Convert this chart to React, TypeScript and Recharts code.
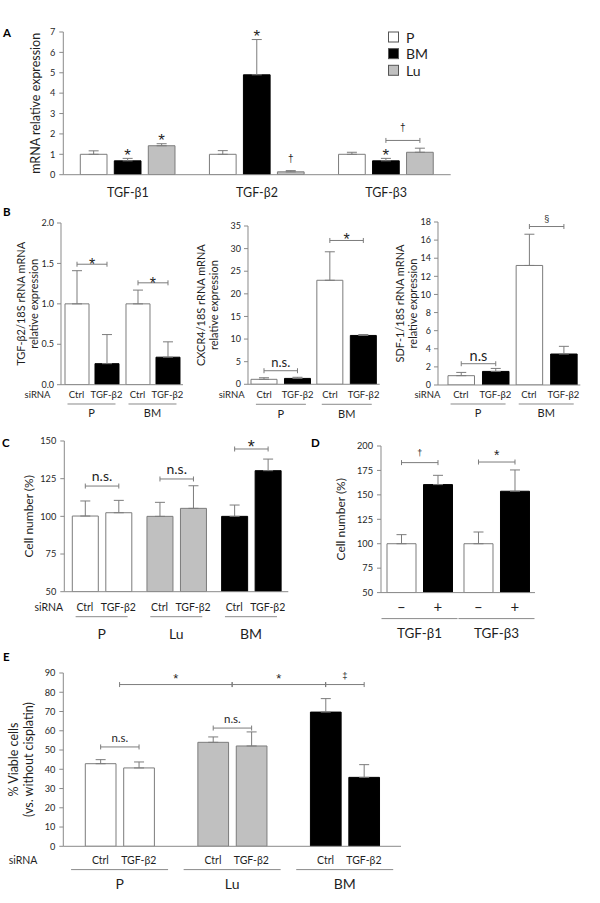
import React from 'react';
import { BarChart, Bar, XAxis, YAxis, ErrorBar, LabelList, Cell, ReferenceLine } from 'recharts';

// ---------------- data ----------------
// Panel A
const catsA = ['TGF-β1', 'TGF-β2', 'TGF-β3'];
const legendA = ['P', 'BM', 'Lu'];
const aP = [1.0, 1.0, 1.0];
const aPErr = [0.17, 0.18, 0.1];
const aBM = [0.68, 4.9, 0.68];
const aBMErr = [0.12, 1.73, 0.12];
const aLu = [1.42, 0.14, 1.1];
const aLuErr = [0.1, 0.06, 0.2];
const aBMMarks = ['*', '*', '*'];
const aLuMarks = ['*', '†', ''];
const aTicks = [0, 1, 2, 3, 4, 5, 6, 7];
const aBrackets = [{ g: 2, y: 1.68, label: '†' }];

// Panel B
const siRNALabel = 'siRNA';
const bGroups = ['P', 'BM'];
const siRNA = ['Ctrl', 'TGF-β2'];
const b1Ctrl = [1.0, 1.0];
const b1CtrlErr = [0.41, 0.17];
const b1Si = [0.26, 0.34];
const b1SiErr = [0.36, 0.19];
const b1Ticks = [0, 0.5, 1.0, 1.5, 2.0];
const b1Brackets = [{ g: 0, y: 1.49, label: '*' }, { g: 1, y: 1.26, label: '*' }];

const b2Ctrl = [1.1, 23.0];
const b2CtrlErr = [0.35, 6.3];
const b2Si = [1.3, 10.8];
const b2SiErr = [0.25, 0.2];
const b2Ticks = [0, 5, 10, 15, 20, 25, 30, 35];
const b2Brackets = [{ g: 0, y: 3.0, label: 'n.s.' }, { g: 1, y: 31.8, label: '*' }];

const b3Ctrl = [1.03, 13.2];
const b3CtrlErr = [0.36, 3.45];
const b3Si = [1.5, 3.42];
const b3SiErr = [0.33, 0.85];
const b3Ticks = [0, 2, 4, 6, 8, 10, 12, 14, 16, 18];
const b3Brackets = [{ g: 0, y: 2.35, label: 'n.s' }, { g: 1, y: 17.5, label: '§' }];

// Panel C
const cGroups = ['P', 'Lu', 'BM'];
const cCtrl = [100.2, 100.0, 100.0];
const cCtrlErr = [10.0, 9.3, 7.5];
const cSi = [102.4, 105.3, 130.3];
const cSiErr = [8.2, 15.0, 7.7];
const cTicks = [50, 75, 100, 125, 150];
const cBrackets = [
  { g: 0, y: 120.1, label: 'n.s.' },
  { g: 1, y: 124.8, label: 'n.s.' },
  { g: 2, y: 144.7, label: '*' },
];

// Panel D
const dGroups = ['TGF-β1', 'TGF-β3'];
const dTreat = ['–', '+'];
const dMinus = [100.0, 100.0];
const dMinusErr = [9.3, 12.0];
const dPlus = [160.5, 153.7];
const dPlusErr = [9.5, 21.8];
const dTicks = [50, 75, 100, 125, 150, 175, 200];
const dBrackets = [{ g: 0, y: 183.0, label: '†' }, { g: 1, y: 183.6, label: '*' }];

// Panel E
const eGroups = ['P', 'Lu', 'BM'];
const eCtrl = [42.9, 54.0, 69.7];
const eCtrlErr = [2.1, 2.8, 7.0];
const eSi = [40.7, 52.1, 35.8];
const eSiErr = [3.1, 7.3, 6.6];
const eTicks = [0, 10, 20, 30, 40, 50, 60, 70, 80, 90];
const eBrackets = [
  { g: 0, y: 51.6, label: 'n.s.' },
  { g: 1, y: 61.4, label: 'n.s.' },
  { g: 2, y: 84.0, label: '‡' },
];
const eTopY = 84.0;
const eTopMarks = ['*', '*'];

// ---------------- styles ----------------
const FONT = 'Lato, "Open Sans", "DejaVu Sans", sans-serif';
const GLYPH_FONT = '"Liberation Sans", Arial, sans-serif';
const WHITE = '#ffffff';
const BLACK = '#000000';
const GRAY = '#c0c0c0';
const EDGE = '#7b7b7b';
const AXIS = '#8a8a8a';
const INK = '#1f1f1f';
const groupFill3 = [WHITE, GRAY, BLACK];
const groupStroke3 = [EDGE, EDGE, BLACK];

// ---------------- helpers ----------------
const geom = (lp: any) => {
  const vb = lp && lp.viewBox && typeof lp.viewBox.x === 'number' ? lp.viewBox : lp;
  const x = Number(vb.x), y = Number(vb.y), w = Number(vb.width), h = Number(vb.height);
  if ([x, y, w, h].some((n) => Number.isNaN(n))) return null;
  return { x, y, w, h };
};

const Glyph = ({ x, bottom, label, fs }: { x: number; bottom: number; label: string; fs: number }) => {
  const isStar = label === '*';
  const isDag = label === '†' || label === '‡' || label === '§';
  const base = isStar ? bottom + 0.44 * fs : isDag ? bottom - 0.19 * fs : bottom;
  return (
    <text x={x} y={base} textAnchor="middle" fontSize={fs} fill={INK} fontFamily={isStar || isDag ? GLYPH_FONT : FONT}>
      {label}
    </text>
  );
};

const BracketMark = ({ x1, x2, y, label, fs, gap }: any) => (
  <g>
    <line x1={x1} x2={x2} y1={y} y2={y} stroke={EDGE} strokeWidth={1} />
    <line x1={x1} x2={x1} y1={y - 2.5} y2={y + 2.5} stroke={EDGE} strokeWidth={1} />
    <line x1={x2} x2={x2} y1={y - 2.5} y2={y + 2.5} stroke={EDGE} strokeWidth={1} />
    {label ? <Glyph x={(x1 + x2) / 2} bottom={y - gap} label={label} fs={fs} /> : null}
  </g>
);

const nameTick = (dy: number, fs: number) => (t: any) => (
  <text x={t.x} y={t.y + dy} textAnchor="middle" dominantBaseline="central" fontSize={fs} fill={INK} fontFamily={FONT}>
    {t.payload.value}
  </text>
);

type GT = {
  step: number; sub: string[]; rowDy: number; lineDy: number; groupDy: number; half: number;
  subFs: number; groupFs: number; lead?: string; leadOff?: number;
};
const groupTick = (o: GT) => (t: any) => {
  const { x, y, index } = t;
  return (
    <g>
      {o.lead && index === 0 ? (
        <text x={x - o.step / 2 - (o.leadOff || 0)} y={y + o.rowDy} textAnchor="end" dominantBaseline="central" fontSize={o.subFs} fill={INK} fontFamily={FONT}>
          {o.lead}
        </text>
      ) : null}
      {o.sub.map((s, k) => (
        <text key={k} x={x + (k - (o.sub.length - 1) / 2) * o.step} y={y + o.rowDy} textAnchor="middle" dominantBaseline="central" fontSize={o.subFs} fill={INK} fontFamily={FONT}>
          {s}
        </text>
      ))}
      <line x1={x - o.half} x2={x + o.half} y1={y + o.lineDy} y2={y + o.lineDy} stroke={AXIS} strokeWidth={1} />
      <text x={x} y={y + o.groupDy} textAnchor="middle" dominantBaseline="central" fontSize={o.groupFs} fill={INK} fontFamily={FONT}>
        {t.payload.value}
      </text>
    </g>
  );
};

type Series = { key: string; values: number[]; errs: number[]; fill: string[]; stroke: string[]; marks?: string[] };
type Br = { g: number; y: number; label: string };
type GS = (label: string) => { fs: number; gap: number };

type PanelProps = {
  plot: [number, number, number, number];
  yw: number; xh: number; mt: number; mr: number;
  cats: string[]; series: Series[];
  domain: [number, number]; ticks: number[]; tickFmt?: (v: number) => string;
  tickFs?: number; tickMargin?: number;
  barSize: number; barGap: number; padLeft?: number;
  brackets: Br[]; bracketStyle: GS; markStyle: GS;
  yLabel: { lines: string[]; xs: number[]; fs: number };
  xTick: any;
  extras?: React.ReactNode[];
};

function Panel(p: PanelProps) {
  const [x0, y0, x1, y1] = p.plot;
  const left = x0 - p.yw;
  const top = y0 - p.mt;
  const width = x1 - left + p.mr;
  const height = y1 - top + p.xh;
  const data = p.cats.map((c, i) => {
    const row: any = { cat: c };
    p.series.forEach((s) => {
      row[s.key] = s.values[i];
      row[s.key + 'Err'] = [0, s.errs[i]];
    });
    return row;
  });
  const step = p.barSize + p.barGap;
  const dmin = p.domain[0];
  const last = p.series.length - 1;

  const content = (s: Series, si: number) => (lp: any) => {
    const i = lp.index;
    const g = geom(lp);
    if (!g || i === undefined) return null;
    const v = s.values[i];
    const ppu = g.h / (v - dmin);
    const base = g.y + g.h;
    const yPix = (val: number) => base - (val - dmin) * ppu;
    const cx = g.x + g.w / 2;
    const els: React.ReactNode[] = [];
    const m = s.marks ? s.marks[i] : '';
    if (m) {
      const st = p.markStyle(m);
      els.push(<Glyph key="m" x={cx} bottom={yPix(v + s.errs[i]) - st.gap} label={m} fs={st.fs} />);
    }
    if (si === last) {
      p.brackets
        .filter((b) => b.g === i)
        .forEach((b, k) => {
          const st = p.bracketStyle(b.label);
          els.push(<BracketMark key={'b' + k} x1={cx - step} x2={cx} y={yPix(b.y)} label={b.label} fs={st.fs} gap={st.gap} />);
        });
    }
    return <g>{els}</g>;
  };

  const yLabel = (lp: any) => {
    const vb = lp && lp.viewBox && typeof lp.viewBox.x === 'number' ? lp.viewBox : { x: 0, y: p.mt, width: p.yw, height: y1 - y0 };
    const cy = vb.y + vb.height / 2;
    return (
      <g>
        {p.yLabel.lines.map((t, k) => {
          const lx = vb.x + (p.yLabel.xs[k] - left);
          return (
            <text key={k} x={lx} y={cy} transform={`rotate(-90 ${lx} ${cy})`} textAnchor="middle" dominantBaseline="central" fontSize={p.yLabel.fs} fill={INK} fontFamily={FONT}>
              {t}
            </text>
          );
        })}
      </g>
    );
  };

  return (
    <div style={{ position: 'absolute', left, top }}>
      <BarChart
        width={width}
        height={height}
        data={data}
        margin={{ top: p.mt, right: p.mr, left: 0, bottom: 0 }}
        barGap={p.barGap}
        barSize={p.barSize}
      >
        <XAxis
          dataKey="cat"
          height={p.xh}
          tickLine={false}
          tickSize={0}
          tickMargin={0}
          axisLine={{ stroke: AXIS }}
          tick={p.xTick}
          interval={0}
          padding={{ left: p.padLeft || 0, right: 0 }}
        />
        <YAxis
          type="number"
          width={p.yw}
          domain={p.domain}
          ticks={p.ticks}
          allowDataOverflow
          interval={0}
          tickSize={4}
          tickMargin={p.tickMargin ?? 4}
          tickLine={{ stroke: AXIS }}
          axisLine={{ stroke: AXIS }}
          tick={{ fontSize: p.tickFs ?? 9.2, fill: INK, fontFamily: FONT }}
          tickFormatter={p.tickFmt}
          label={yLabel}
        />
        {p.series.map((s, si) => (
          <Bar key={s.key} dataKey={s.key} isAnimationActive={false} strokeWidth={1}>
            {data.map((_, i) => (
              <Cell key={i} fill={s.fill[i]} stroke={s.stroke[i]} />
            ))}
            <ErrorBar dataKey={s.key + 'Err'} width={5} stroke={EDGE} strokeWidth={1} direction="y" isAnimationActive={false} />
            <LabelList dataKey={s.key} content={content(s, si)} />
          </Bar>
        ))}
        {p.extras}
      </BarChart>
    </div>
  );
}

const styleBy = (m: Record<string, [number, number]>): GS => (label) => {
  const v = m[label] || [12, 4];
  return { fs: v[0], gap: v[1] };
};

const topBracket = (label: string, trimRight: number, fs: number, gap: number) => (q: any) => {
  const xa = Number(q.x1);
  const xb = Number(q.x2) - trimRight;
  const y = Number(q.y1);
  return <BracketMark x1={xa} x2={xb} y={y} label={label} fs={fs} gap={gap} />;
};

export default function App() {
  const fill = (c: string, n: number) => Array.from({ length: n }, () => c);
  const eStep = 30.7 + 7.7;
  return (
    <div style={{ position: 'absolute', left: 0, top: 0, width: 600, height: 903, background: '#fff', fontFamily: FONT, overflow: 'hidden' }}>
      {/* A */}
      <Panel
        plot={[63.3, 32.3, 450.7, 175]}
        yw={63.3} xh={30} mt={12} mr={8}
        cats={catsA}
        series={[
          { key: 'P', values: aP, errs: aPErr, fill: fill(WHITE, 3), stroke: fill(EDGE, 3) },
          { key: 'BM', values: aBM, errs: aBMErr, fill: fill(BLACK, 3), stroke: fill(BLACK, 3), marks: aBMMarks },
          { key: 'Lu', values: aLu, errs: aLuErr, fill: fill(GRAY, 3), stroke: fill(EDGE, 3), marks: aLuMarks },
        ]}
        domain={[0, 7]} ticks={aTicks}
        barSize={26.7} barGap={7.3}
        brackets={aBrackets}
        bracketStyle={styleBy({ '†': [10, 7.5] })}
        markStyle={styleBy({ '*': [17, 5], '†': [10, 7] })}
        yLabel={{ lines: ['mRNA relative expression'], xs: [35], fs: 12.5 }}
        xTick={nameTick(18.3, 12.5)}
      />
      {/* B1 */}
      <Panel
        plot={[61, 223.3, 183, 385]}
        yw={61} xh={38} mt={10} mr={4}
        cats={bGroups}
        series={[
          { key: 'Ctrl', values: b1Ctrl, errs: b1CtrlErr, fill: fill(WHITE, 2), stroke: fill(EDGE, 2) },
          { key: 'Si', values: b1Si, errs: b1SiErr, fill: fill(BLACK, 2), stroke: fill(BLACK, 2) },
        ]}
        domain={[0, 2]} ticks={b1Ticks} tickFmt={(v) => v.toFixed(1)} tickFs={9} tickMargin={3}
        barSize={24} barGap={6}
        brackets={b1Brackets}
        bracketStyle={styleBy({ '*': [16, 1.3] })}
        markStyle={styleBy({})}
        yLabel={{ lines: ['TGF-β2/18S rRNA mRNA', 'relative expression'], xs: [20, 33], fs: 11 }}
        xTick={groupTick({ step: 30, sub: siRNA, rowDy: 10, lineDy: 19.3, groupDy: 28.3, half: 24, subFs: 9.5, groupFs: 11, lead: siRNALabel, leadOff: 26 })}
      />
      {/* B2 */}
      <Panel
        plot={[248.3, 226, 380, 384.3]}
        yw={58} xh={39} mt={10} mr={4}
        cats={bGroups}
        series={[
          { key: 'Ctrl', values: b2Ctrl, errs: b2CtrlErr, fill: fill(WHITE, 2), stroke: fill(EDGE, 2) },
          { key: 'Si', values: b2Si, errs: b2SiErr, fill: fill(BLACK, 2), stroke: fill(BLACK, 2) },
        ]}
        domain={[0, 35]} ticks={b2Ticks} tickFs={9} tickMargin={3}
        barSize={26} barGap={7.5}
        brackets={b2Brackets}
        bracketStyle={styleBy({ 'n.s.': [13, 4], '*': [16, 2.7] })}
        markStyle={styleBy({})}
        yLabel={{ lines: ['CXCR4/18S rRNA mRNA', 'relative expression'], xs: [201, 214], fs: 11 }}
        xTick={groupTick({ step: 33.5, sub: siRNA, rowDy: 10.5, lineDy: 20, groupDy: 29, half: 25, subFs: 9.5, groupFs: 11, lead: siRNALabel, leadOff: 19.5 })}
      />
      {/* B3 */}
      <Panel
        plot={[437.7, 222.3, 580, 385.3]}
        yw={50} xh={38} mt={10} mr={8}
        cats={bGroups}
        series={[
          { key: 'Ctrl', values: b3Ctrl, errs: b3CtrlErr, fill: fill(WHITE, 2), stroke: fill(EDGE, 2) },
          { key: 'Si', values: b3Si, errs: b3SiErr, fill: fill(BLACK, 2), stroke: fill(BLACK, 2) },
        ]}
        domain={[0, 18]} ticks={b3Ticks} tickFs={9} tickMargin={3}
        barSize={26.5} barGap={8} padLeft={6}
        brackets={b3Brackets}
        bracketStyle={styleBy({ 'n.s': [14.5, 3], '§': [9, 2.7] })}
        markStyle={styleBy({})}
        yLabel={{ lines: ['SDF-1/18S rRNA mRNA', 'relative expression'], xs: [399, 412], fs: 11 }}
        xTick={groupTick({ step: 34.5, sub: siRNA, rowDy: 10, lineDy: 19, groupDy: 28, half: 27.5, subFs: 9.5, groupFs: 11, lead: siRNALabel, leadOff: 20.5 })}
      />
      {/* C */}
      <Panel
        plot={[64.3, 441, 288.3, 591.7]}
        yw={64.3} xh={50} mt={12} mr={6}
        cats={cGroups}
        series={[
          { key: 'Ctrl', values: cCtrl, errs: cCtrlErr, fill: groupFill3, stroke: groupStroke3 },
          { key: 'Si', values: cSi, errs: cSiErr, fill: groupFill3, stroke: groupStroke3 },
        ]}
        domain={[50, 150]} ticks={cTicks}
        barSize={26} barGap={7.5}
        brackets={cBrackets}
        bracketStyle={styleBy({ 'n.s.': [14, 5], '*': [18, 4.3] })}
        markStyle={styleBy({})}
        yLabel={{ lines: ['Cell number (%)'], xs: [28.3], fs: 12 }}
        xTick={groupTick({ step: 33.5, sub: siRNA, rowDy: 15.6, lineDy: 25, groupDy: 41.6, half: 26, subFs: 10.5, groupFs: 14, lead: siRNALabel, leadOff: 21.7 })}
      />
      {/* D */}
      <Panel
        plot={[381, 445.7, 535, 592.3]}
        yw={70} xh={50} mt={12} mr={6}
        cats={dGroups}
        series={[
          { key: 'Minus', values: dMinus, errs: dMinusErr, fill: fill(WHITE, 2), stroke: fill(EDGE, 2) },
          { key: 'Plus', values: dPlus, errs: dPlusErr, fill: fill(BLACK, 2), stroke: fill(BLACK, 2) },
        ]}
        domain={[50, 200]} ticks={dTicks}
        barSize={29} barGap={7.5}
        brackets={dBrackets}
        bracketStyle={styleBy({ '†': [9, 5.3], '*': [14, 7.8] })}
        markStyle={styleBy({})}
        yLabel={{ lines: ['Cell number (%)'], xs: [340], fs: 12 }}
        xTick={groupTick({ step: 36.5, sub: dTreat, rowDy: 13.7, lineDy: 26, groupDy: 40.4, half: 38, subFs: 15, groupFs: 13.5 })}
      />
      {/* E */}
      <Panel
        plot={[63.3, 672.7, 401, 846]}
        yw={63.3} xh={50} mt={14} mr={8}
        cats={eGroups}
        series={[
          { key: 'Ctrl', values: eCtrl, errs: eCtrlErr, fill: groupFill3, stroke: groupStroke3 },
          { key: 'Si', values: eSi, errs: eSiErr, fill: groupFill3, stroke: groupStroke3 },
        ]}
        domain={[0, 90]} ticks={eTicks}
        barSize={30.7} barGap={7.7}
        brackets={eBrackets}
        bracketStyle={styleBy({ 'n.s.': [11.5, 5], '‡': [9.5, 3.5] })}
        markStyle={styleBy({})}
        yLabel={{ lines: ['% Viable cells', '(vs. without cisplatin)'], xs: [13.3, 28.3], fs: 12.5 }}
        xTick={groupTick({ step: eStep, sub: siRNA, rowDy: 14, lineDy: 23.3, groupDy: 37.3, half: 48.5, subFs: 10.5, groupFs: 14, lead: siRNALabel, leadOff: 63 })}
        extras={[
          <ReferenceLine
            key="t1"
            segment={[{ x: eGroups[0], y: eTopY }, { x: eGroups[1], y: eTopY }]}
            stroke={EDGE}
            shape={topBracket(eTopMarks[0], 0, 13, 7.3)}
          />,
          <ReferenceLine
            key="t2"
            segment={[{ x: eGroups[1], y: eTopY }, { x: eGroups[2], y: eTopY }]}
            stroke={EDGE}
            shape={topBracket(eTopMarks[1], eStep / 2, 13, 7.3)}
          />,
        ]}
      />
      {/* overlay: panel letters + legend of A */}
      <svg width={600} height={903} style={{ position: 'absolute', left: 0, top: 0, pointerEvents: 'none' }}>
        {[
          ['A', 3, 37.3],
          ['B', 3, 216],
          ['C', 2, 446.7],
          ['D', 311, 447.3],
          ['E', 3, 660.5],
        ].map(([t, x, y]) => (
          <text key={t as string} x={x as number} y={y as number} fontSize={11.5} fontWeight={700} fill={BLACK} fontFamily={FONT}>
            {t}
          </text>
        ))}
        {legendA.map((n, i) => (
          <g key={n}>
            <rect x={388.5} y={32 + i * 16.65} width={10} height={10} fill={[WHITE, BLACK, GRAY][i]} stroke="#555" strokeWidth={1} />
            <text x={406} y={37 + i * 16.65} dominantBaseline="central" fontSize={14} fill={INK} fontFamily={FONT}>
              {n}
            </text>
          </g>
        ))}
      </svg>
    </div>
  );
}
